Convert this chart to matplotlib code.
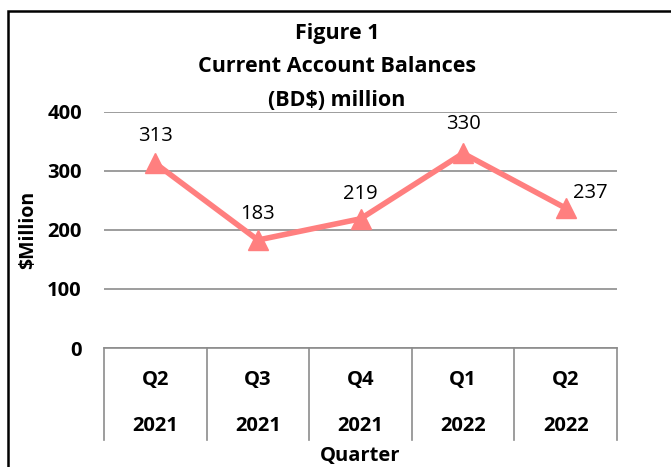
import matplotlib.pyplot as plt
from matplotlib.patches import Rectangle

quarters = ["Q2", "Q3", "Q4", "Q1", "Q2"]
years = ["2021", "2021", "2021", "2022", "2022"]
balances = [313, 183, 219, 330, 237]

plt.rcParams['font.family'] = ['Open Sans', 'DejaVu Sans']

fig = plt.figure(figsize=(6.71, 4.67), dpi=100)
ax = fig.add_axes([104/671, 1 - 348/467, (617 - 104)/671, (348 - 112)/467])

xs = range(len(balances))
ax.plot(xs, balances, color='#ff7f7f', linewidth=4, marker='^', markersize=15,
        zorder=3)

# data labels (last one sits to the right)
offsets = [(0, 20), (0, 19), (0, 18), (0, 21), (18, 11)]
for x, v, off in zip(xs, balances, offsets):
    ax.annotate(str(v), (x, v), xytext=off, textcoords='offset points',
                ha='center', va='center', fontsize=14.5)

ax.set_xlim(-0.5, len(balances) - 0.5)
ax.set_ylim(0, 400)
ax.set_yticks([0, 100, 200, 300, 400])
ax.set_yticklabels(['0', '100', '200', '300', '400'], fontweight='bold', fontsize=14.5)
ax.tick_params(axis='y', length=0, pad=16)
ax.set_xticks([])
ax.grid(axis='y', color='#8c8c8c', linewidth=1.2)
ax.set_axisbelow(True)
for s in ['top', 'right', 'left']:
    ax.spines[s].set_visible(False)
ax.spines['bottom'].set_color('#8c8c8c')
ax.spines['bottom'].set_linewidth(1.2)

# two-level category axis
tr = ax.get_xaxis_transform()
for i in range(len(balances) + 1):
    ax.plot([i - 0.5, i - 0.5], [0, -0.39], transform=tr, color='#8c8c8c',
            linewidth=1.2, clip_on=False)
for i, (q, y) in enumerate(zip(quarters, years)):
    ax.text(i, -0.135, q, transform=tr, ha='center', va='center',
            fontweight='bold', fontsize=14.5)
    ax.text(i, -0.33, y, transform=tr, ha='center', va='center',
            fontweight='bold', fontsize=14.5)

fig.text(360/671, 1 - 456/467, 'Quarter', ha='center', va='center',
         fontweight='bold', fontsize=14.5)
fig.text(28/671, 1 - 230/467, '$Million', ha='center', va='center',
         rotation=90, fontweight='bold', fontsize=14)

for txt, ypix in [('Figure 1', 33), ('Current Account Balances', 67),
                  ('(BD$) million', 100)]:
    fig.text(337/671, 1 - ypix/467, txt, ha='center', va='center',
             fontweight='bold', fontsize=15.5)

fig.patches.append(Rectangle((7.5/671, -0.05), 1.2, 1 - 10.5/467 + 0.05,
                             transform=fig.transFigure, fill=False,
                             edgecolor='black', linewidth=1.8))

fig.savefig('out.png', dpi=100)
